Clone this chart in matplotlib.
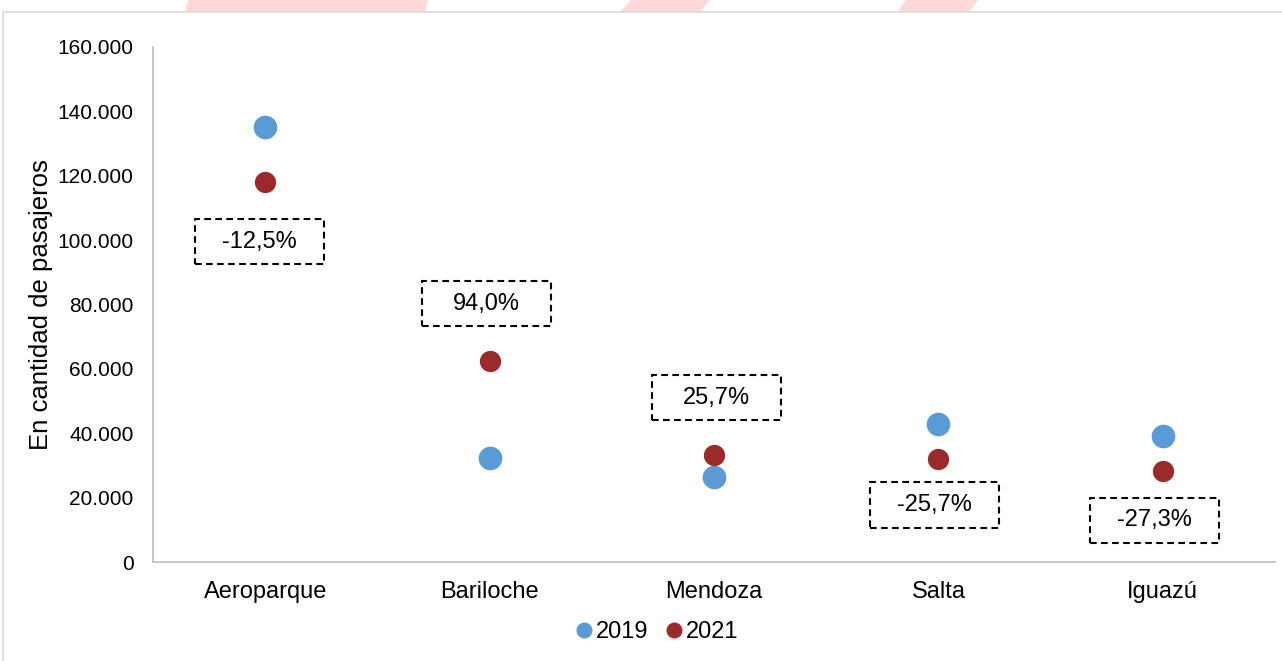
import matplotlib
matplotlib.use("Agg")
import matplotlib.pyplot as plt
from matplotlib.patches import Rectangle, Polygon
from matplotlib.ticker import FuncFormatter
from matplotlib.lines import Line2D

plt.rcParams['font.family'] = ['Liberation Sans', 'DejaVu Sans']

airports = ["Aeroparque", "Bariloche", "Mendoza", "Salta", "Iguazú"]
pax_2019 = [135000, 32200, 26400, 43000, 39000]
pax_2021 = [118100, 62500, 33200, 32000, 28400]
var_labels = ["-12,5%", "94,0%", "25,7%", "-25,7%", "-27,3%"]
# where the variation labels sit (data coords)
label_y = [99500, 80300, 51000, 17700, 13000]
label_dx = [-0.027, -0.013, 0.009, -0.016, -0.038]

c2019 = "#5B9BD5"
c2021 = "#9B2B2B"

fig = plt.figure(figsize=(12.82, 6.61), dpi=100)
ax = fig.add_axes([153 / 1282, 1 - 562 / 661, 1122 / 1282, 515 / 661])

# outer chart frame
fig.patches.append(Rectangle((3 / 1282, -0.05), 1.1, 1 - 12 / 661 + 0.05,
                             transform=fig.transFigure, fill=False,
                             edgecolor="#D9D9D9", linewidth=1.2))
# faint pink marks along the top edge
for x0, x1, s in [(185, 425, 3), (621, 700, 10), (898, 970, 8)]:
    pts = [(x0 / 1282, 1 - 11 / 661), (x1 / 1282, 1 - 11 / 661),
           ((x1 + s) / 1282, 1.0), ((x0 + s) / 1282, 1.0)]
    fig.patches.append(Polygon(pts, closed=True, transform=fig.transFigure,
                               facecolor="#FFD9D9", edgecolor="none"))

x = range(len(airports))
ax.scatter(x, pax_2019, s=290, color=c2019, zorder=3, linewidths=0)
ax.scatter(x, pax_2021, s=235, color=c2021, zorder=3, linewidths=0)

box_w = 0.575
box_h = 14000
for i, (lab, yy, dx) in enumerate(zip(var_labels, label_y, label_dx)):
    cx = i + dx
    ax.add_patch(Rectangle((cx - box_w / 2, yy - box_h / 2), box_w, box_h,
                           facecolor="white", edgecolor="black",
                           linestyle=(0, (3.2, 2.1)), linewidth=1.5, zorder=4))
    ax.text(cx, yy, lab, ha="center", va="center", fontsize=17, zorder=5)

ax.set_xlim(-0.5, len(airports) - 0.5)
ax.set_ylim(0, 160000)
ax.set_yticks(range(0, 160001, 20000))
ax.yaxis.set_major_formatter(FuncFormatter(lambda v, p: f"{int(v):,}".replace(",", ".")))
ax.set_xticks(list(x))
ax.set_xticklabels(airports, fontsize=17)
ax.tick_params(axis="y", labelsize=15, length=0, pad=14)
ax.tick_params(axis="x", length=0, pad=14)
for sp in ["top", "right"]:
    ax.spines[sp].set_visible(False)
for sp in ["left", "bottom"]:
    ax.spines[sp].set_color("#BFBFBF")
    ax.spines[sp].set_linewidth(1.2)
ax.set_ylabel("En cantidad de pasajeros", fontsize=18.5, labelpad=3)

handles = [Line2D([], [], marker="o", linestyle="none", color=c2019, markersize=10.5),
           Line2D([], [], marker="o", linestyle="none", color=c2021, markersize=10.5)]
fig.legend(handles, ["2019", "2021"], loc="center", bbox_to_anchor=(655 / 1282, 1 - 632 / 661),
           ncol=2, frameon=False, fontsize=17, handletextpad=0.0, columnspacing=0.6,
           handlelength=1.0)

fig.savefig("out.png", dpi=100)
